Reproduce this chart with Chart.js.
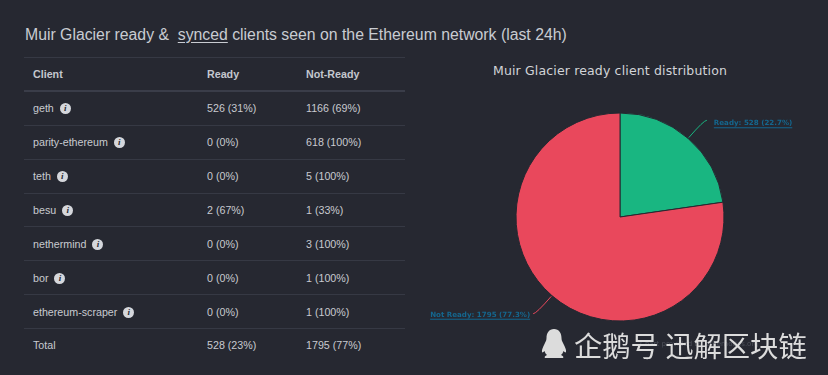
<!DOCTYPE html>
<html>
<head>
<meta charset="utf-8">
<script src="https://cdn.jsdelivr.net/npm/chart.js@4"></script>
<style>
  html, body { margin: 0; padding: 0; background: #262831; width: 828px; height: 375px; overflow: hidden; }
  body { position: relative; font-family: "Liberation Sans", Arial, sans-serif; color: #c8cad0; }
  #heading { position: absolute; left: 25px; top: 26px; font-size: 15.8px; line-height: 18px; white-space: pre; color: #c9ccd2; }
  #heading u { text-underline-offset: 2px; }
  table { position: absolute; left: 24px; top: 57px; width: 381px; border-collapse: collapse; table-layout: fixed; font-size: 10.7px; }
  th, td { text-align: left; padding: 0 0 0 9px; height: 32.86px; border-top: 1px solid #363944; font-weight: normal; white-space: nowrap; }
  th { font-weight: bold; height: 32px; border-bottom: 2px solid #3a3d49; color: #c4c7ce; }
  .i { display: inline-block; width: 11px; height: 11px; line-height: 11px; border-radius: 50%; margin-left: 3px; background: #d5d7dc; color: #262831;
       font: italic bold 9px/11px "Liberation Serif", serif; text-align: center; vertical-align: 1px; }
  #chartTitle { position: absolute; left: 410px; width: 400px; top: 63px; text-align: center; font: 12.5px/16px "DejaVu Sans", sans-serif; letter-spacing: 0.15px; color: #d2d4d8; }
  #pieWrap { position: absolute; left: 420px; top: 90px; width: 408px; height: 285px; }
  #pie { display: block; }
  #credit { position: absolute; left: 640px; top: 340px; font: 7px "DejaVu Sans", sans-serif; color: #4d505a; }
  #mark { position: absolute; left: 574px; top: 327px; font: 28.3px/36px "Noto Sans CJK SC", sans-serif; color: #dcdcdc; white-space: pre; }
  #penguin { position: absolute; left: 540px; top: 329px; }
</style>
</head>
<body>
<div id="heading">Muir Glacier ready &amp;  <u>synced</u> clients seen on the Ethereum network (last 24h)</div>
<table id="clients"></table>
<div id="chartTitle">Muir Glacier ready client distribution</div>
<div id="pieWrap"><canvas id="pie" width="408" height="285"></canvas></div>
<div id="credit">Chart provided by ethernodes.org</div>
<svg id="penguin" width="28" height="30" viewBox="0 0 28 30">
  <path fill="#dcdcdc" d="M14 0c-5 0-7.500 4-7.500 9 0 2-.5 3-2 6-1.500 3-3 6-2.500 8 .4 1 1.500 0 2.500-1 .5 2 1.500 3 2.500 4-2 .8-3 2-2 3h18c1-1 0-2.200-2-3 1-1 2-2 2.500-4 1 1 2.100 2 2.500 1 .5-2-1-5-2.500-8-1.500-3-2-4-2-6 0-5-2.500-9-7.500-9z"/>
</svg>
<div id="mark">企鹅号 迅解区块链</div>

<script>
const clients = ['geth', 'parity-ethereum', 'teth', 'besu', 'nethermind', 'bor', 'ethereum-scraper'];
const readyCol = ['526 (31%)', '0 (0%)', '0 (0%)', '2 (67%)', '0 (0%)', '0 (0%)', '0 (0%)'];
const notReadyCol = ['1166 (69%)', '618 (100%)', '5 (100%)', '1 (33%)', '3 (100%)', '1 (100%)', '1 (100%)'];
const totals = ['Total', '528 (23%)', '1795 (77%)'];

const pieLabels = ['Ready', 'Not Ready'];
const pieValues = [528, 1795];
const piePercents = ['22.7%', '77.3%'];
const pieColors = ['#19b681', '#e9485c'];

let html = '<colgroup><col style="width:174px"><col style="width:99px"><col></colgroup>';
html += '<tr><th>Client</th><th>Ready</th><th>Not-Ready</th></tr>';
clients.forEach((c, i) => {
  html += `<tr><td>${c} <span class="i">i</span></td><td>${readyCol[i]}</td><td>${notReadyCol[i]}</td></tr>`;
});
html += `<tr><td>${totals[0]}</td><td>${totals[1]}</td><td>${totals[2]}</td></tr>`;
document.getElementById('clients').innerHTML = html;

// leader lines + underlined labels, hung off the arcs so they follow the data
const sliceLabels = {
  id: 'sliceLabels',
  afterDraw(chart) {
    const ctx = chart.ctx;
    chart.getDatasetMeta(0).data.forEach((arc, i) => {
      const mid = (arc.startAngle + arc.endAngle) / 2;
      const right = Math.cos(mid) >= 0;
      const x1 = arc.x + Math.cos(mid) * (arc.outerRadius + 1);
      const y1 = arc.y + Math.sin(mid) * (arc.outerRadius + 1);
      const x2 = arc.x + Math.cos(mid) * (arc.outerRadius + 24);
      const y2 = arc.y + Math.sin(mid) * (arc.outerRadius + 24);
      const x3 = x2 + (right ? 3 : -3);
      ctx.save();
      ctx.strokeStyle = pieColors[i];
      ctx.lineWidth = 1;
      ctx.beginPath();
      ctx.moveTo(x1, y1);
      ctx.quadraticCurveTo(x2, y2, x3, y2);
      ctx.stroke();

      const text = `${pieLabels[i]}: ${pieValues[i]} (${piePercents[i]})`;
      ctx.font = 'bold 7.1px "DejaVu Sans", sans-serif';
      ctx.fillStyle = '#14678f';
      ctx.strokeStyle = '#14678f';
      ctx.textBaseline = 'middle';
      const w = ctx.measureText(text).width;
      const tx = right ? x3 + 7 : x3 - 3 - w;
      const ty = y2 + (right ? 3 : 1);
      ctx.fillText(text, tx, ty);
      ctx.beginPath();
      ctx.moveTo(tx, ty + 4.5);
      ctx.lineTo(tx + w, ty + 4.5);
      ctx.stroke();
      ctx.restore();
    });
  }
};

new Chart(document.getElementById('pie'), {
  type: 'pie',
  data: {
    labels: pieLabels,
    datasets: [{
      data: pieValues,
      backgroundColor: pieColors,
      borderColor: '#262831',
      borderWidth: 1,
      radius: 104
    }]
  },
  options: {
    responsive: false,
    animation: false,
    layout: { padding: { right: 8, bottom: 31 } },
    plugins: { legend: { display: false }, tooltip: { enabled: false } }
  },
  plugins: [sliceLabels]
});
</script>
</body>
</html>
